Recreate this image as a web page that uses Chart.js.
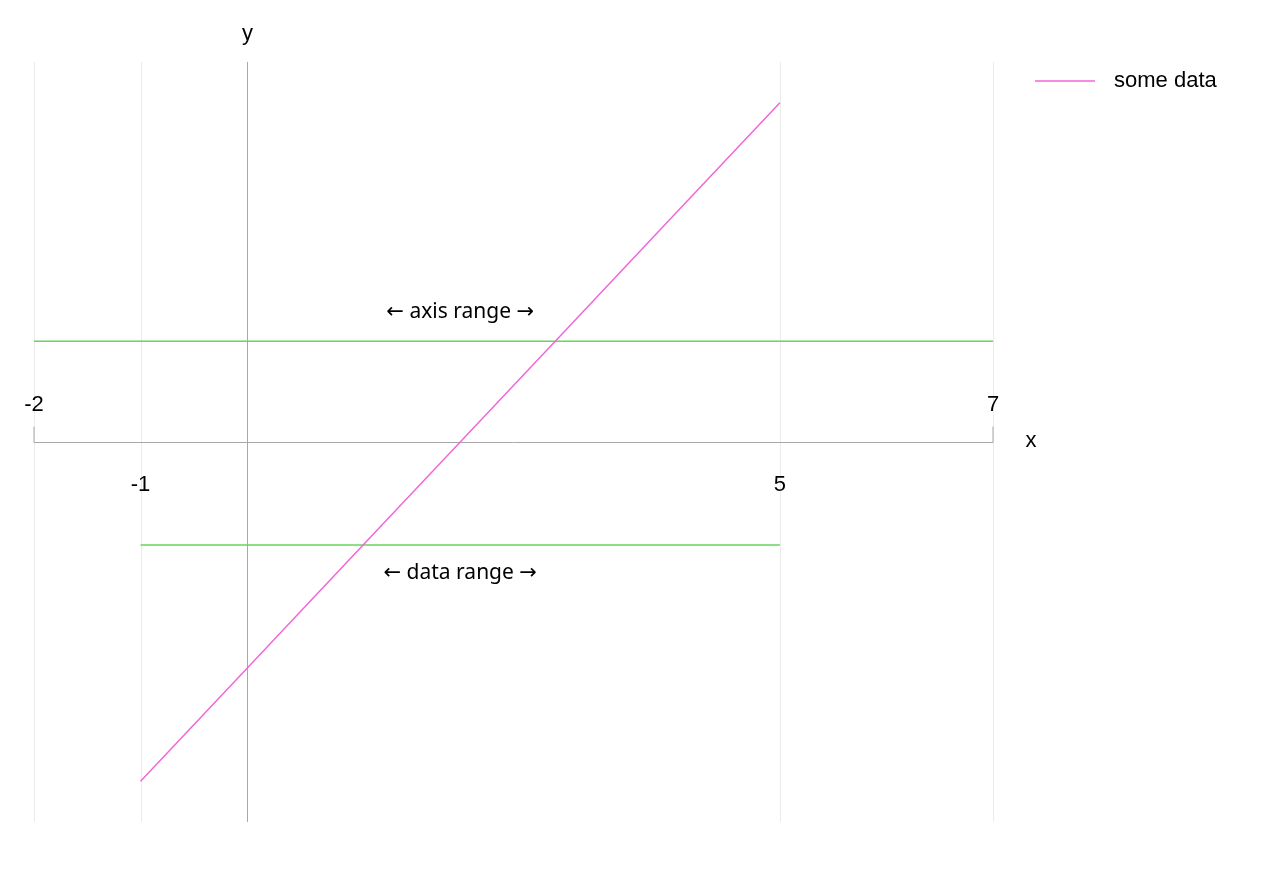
<!DOCTYPE html>
<html>
<head>
<meta charset="utf-8">
<script src="https://cdn.jsdelivr.net/npm/chart.js@4"></script>
<style>
  html, body { margin: 0; background: #fff; }
  #wrap { width: 1270px; height: 884px; }
</style>
</head>
<body>
<div id="wrap"><canvas id="myChart"></canvas></div>
<script>
"use strict";

// data
const xValues = [-1, 0, 1, 2, 3, 4, 5];
const yValues = [-3, -2, -1, 0, 1, 2, 3];
const gridTicks = [-2, -1, 5, 7];
const ticksAbove = [-2, 7];
const ticksBelow = [-1, 5];
const axisRange = [-2, 7];
const axisRangeY = 0.89;
const dataRange = [-1, 5];
const dataRangeY = -0.91;

const pink = "#f266d8";
const green = "#66d65a";
const font = "22px 'Liberation Sans', Arial, sans-serif";
const noteFont = "21px 'Noto Sans', 'DejaVu Sans', sans-serif";

const decor = {
  id: "decor",
  beforeDatasetsDraw(chart) {
    const { ctx, chartArea: a, scales: { x, y } } = chart;
    ctx.save();
    // vertical grid
    ctx.strokeStyle = "#ebebeb";
    ctx.lineWidth = 1;
    gridTicks.forEach(v => {
      const px = Math.round(x.getPixelForValue(v)) + 0.5;
      ctx.beginPath(); ctx.moveTo(px, a.top); ctx.lineTo(px, a.bottom); ctx.stroke();
    });
    // y axis line
    ctx.strokeStyle = "#a8a8a8";
    const x0 = Math.round(x.getPixelForValue(0)) + 0.5;
    ctx.beginPath(); ctx.moveTo(x0, a.top); ctx.lineTo(x0, a.bottom); ctx.stroke();
    // x axis line with end ticks
    const y0 = Math.round(y.getPixelForValue(0)) + 0.5;
    const xl = x.getPixelForValue(-2), xr = x.getPixelForValue(7);
    ctx.beginPath();
    ctx.moveTo(xl, y0 - 16); ctx.lineTo(xl, y0); ctx.lineTo(xr, y0); ctx.lineTo(xr, y0 - 16);
    ctx.stroke();
    // tick labels
    ctx.fillStyle = "#000";
    ctx.font = font;
    ctx.textAlign = "center";
    ctx.textBaseline = "middle";
    ticksAbove.forEach(v => ctx.fillText(String(v), x.getPixelForValue(v), y0 - 38));
    ticksBelow.forEach(v => ctx.fillText(String(v), x.getPixelForValue(v), y0 + 42));
    ctx.fillText("x", xr + 38, y0 - 2);
    ctx.fillText("y", x0, a.top - 28);
    // annotations
    ctx.font = noteFont;
    ctx.fillText("← axis range →", x.getPixelForValue(2), y.getPixelForValue(axisRangeY) - 29);
    ctx.fillText("← data range →", x.getPixelForValue(2), y.getPixelForValue(dataRangeY) + 28);
    // legend
    ctx.font = font;
    ctx.lineWidth = 1.5;
    ctx.strokeStyle = pink;
    ctx.beginPath(); ctx.moveTo(1035, 81); ctx.lineTo(1095, 81); ctx.stroke();
    ctx.textAlign = "left";
    ctx.fillText("some data", 1114, 81);
    ctx.restore();
  }
};

const config = {
  type: "scatter",
  data: {
    datasets: [
      {
        label: "some data",
        data: xValues.map((v, i) => ({ x: v, y: yValues[i] })),
        showLine: true,
        borderColor: pink,
        borderWidth: 1.5,
        pointRadius: 0,
      },
      {
        label: "axis range",
        data: axisRange.map(v => ({ x: v, y: axisRangeY })),
        showLine: true,
        borderColor: green,
        borderWidth: 1.5,
        pointRadius: 0,
      },
      {
        label: "data range",
        data: dataRange.map(v => ({ x: v, y: dataRangeY })),
        showLine: true,
        borderColor: green,
        borderWidth: 1.5,
        pointRadius: 0,
      },
    ],
  },
  options: {
    responsive: true,
    maintainAspectRatio: false,
    animation: false,
    layout: { padding: { left: 34, right: 277, top: 62, bottom: 62 } },
    plugins: { legend: { display: false }, tooltip: { enabled: false } },
    scales: {
      x: { type: "linear", min: -2, max: 7, display: false },
      y: { type: "linear", min: -3.36, max: 3.36, display: false },
    },
  },
  plugins: [decor],
};

new Chart(document.querySelector("#myChart"), config);
</script>
</body>
</html>
